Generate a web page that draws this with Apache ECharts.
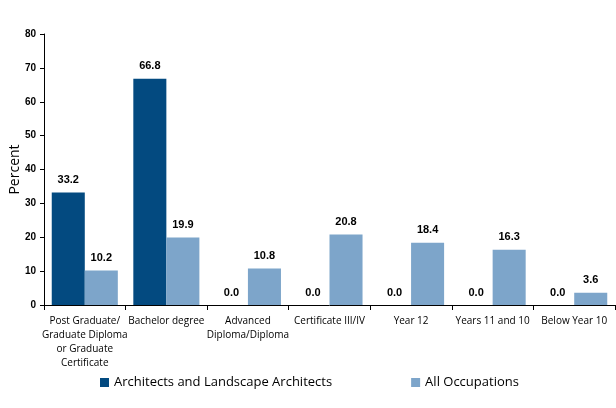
<!DOCTYPE html>
<html><head><meta charset="utf-8">
<script src="https://cdn.jsdelivr.net/npm/echarts@6/dist/echarts.min.js"></script>
<style>html,body{margin:0;padding:0;background:#fff}#c{width:616px;height:408px}</style>
</head><body><div id="c"></div>
<script>
const categories = ["Post Graduate/\nGraduate Diploma\nor Graduate\nCertificate","Bachelor degree","Advanced\nDiploma/Diploma","Certificate III/IV","Year 12","Years 11 and 10","Below Year 10"];
const architects = [33.2,66.8,0.0,0.0,0.0,0.0,0.0];
const allOccupations = [10.2,19.9,10.8,20.8,18.4,16.3,3.6];
const yTicks = [0,10,20,30,40,50,60,70,80];
const seriesNames = ["Architects and Landscape Architects","All Occupations"];

const chart = echarts.init(document.getElementById('c'), null, {renderer:'canvas'});
const labelStyle = {show:true,position:'top',distance:7,fontFamily:'Liberation Sans Narrow, Arial Narrow, Liberation Sans, sans-serif',fontWeight:'bold',fontSize:11,color:'#000',formatter:p=>p.value.toFixed(1)};
chart.setOption({
  animation:false,
  grid:{left:44,right:1,top:34,bottom:103,containLabel:false,outerBoundsMode:'none'},
  legend:{bottom:14,left:95,itemGap:79,itemWidth:9,itemHeight:9,icon:'rect',
    textStyle:{fontFamily:'Open Sans, sans-serif',fontSize:13,color:'#000'},data:seriesNames},
  xAxis:{type:'category',data:categories,
    axisLine:{lineStyle:{color:'#000',width:1}},
    axisTick:{show:true,alignWithLabel:false,length:5,lineStyle:{color:'#000'}},
    axisLabel:{interval:0,fontFamily:'Open Sans, sans-serif',fontSize:10,color:'#000',lineHeight:14,margin:9}},
  yAxis:{type:'value',min:0,max:80,interval:10,
    name:'Percent',nameLocation:'middle',nameGap:22,nameRotate:90,nameMoveOverlap:false,
    nameTextStyle:{fontFamily:'Open Sans, sans-serif',fontSize:14,color:'#000'},
    axisLine:{show:true,lineStyle:{color:'#000'}},
    axisTick:{show:true,length:4,lineStyle:{color:'#000'}},
    splitLine:{show:false},
    axisLabel:{fontFamily:'Liberation Sans Narrow, Arial Narrow, sans-serif',fontWeight:'bold',fontSize:10,color:'#000',margin:8,
      formatter:v=>yTicks.includes(v)?String(v):''}},
  series:[
    {name:seriesNames[0],type:'bar',data:architects,barWidth:'40.5%',barGap:'0%',itemStyle:{color:'#034A80'},label:labelStyle},
    {name:seriesNames[1],type:'bar',data:allOccupations,barWidth:'40.5%',itemStyle:{color:'#7DA5CA'},label:labelStyle}
  ]
});
</script></body></html>
